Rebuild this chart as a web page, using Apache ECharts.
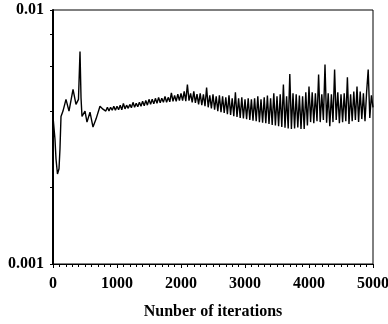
<!DOCTYPE html>
<html><head><meta charset="utf-8">
<script src="https://cdn.jsdelivr.net/npm/echarts@6/dist/echarts.min.js"></script>
<style>html,body{margin:0;padding:0;background:#fff}#c{width:388px;height:324px}</style>
</head><body><div id="c"></div>
<script>
// Iteration numbers and norm of errors
var iterations = [0,31,47,70,94,109,125,156,203,250,313,359,398,422,438,453,500,531,578,625,672,734,781,
800,825,850,875,900,925,950,975,1000,1025,1050,1075,1100,1125,1150,1175,1200,1225,1250,1275,1300,1325,1350,1375,1400,1425,1450,1475,
1500,1525,1550,1575,1600,1625,1650,1675,1700,1725,1750,1775,1800,1825,1850,1875,1900,1925,1950,1975,
2000,2025,2050,2075,2100,2125,2150,2175,2200,2225,2250,2275,2300,2325,2350,2375,2400,2425,2450,2475,
2500,2525,2550,2575,2600,2625,2650,2675,2700,2725,2750,2775,2800,2825,2850,2875,2900,2925,2950,2975,
3000,3025,3050,3075,3100,3125,3150,3175,3200,3225,3250,3275,3300,3325,3350,3375,3400,3425,3450,3475,
3500,3525,3550,3575,3600,3625,3650,3675,3700,3725,3750,3775,3800,3825,3850,3875,3900,3925,3950,3975,
4000,4025,4050,4075,4100,4125,4150,4175,4200,4225,4250,4275,4300,4325,4350,4375,4400,4425,4450,4475,
4500,4525,4550,4575,4600,4625,4650,4675,4700,4725,4750,4775,4800,4825,4850,4875,4900,4925,4950,4975,5000];
var errors = [0.0038,0.0031,0.00259,0.00226,0.00237,0.00284,0.00381,0.0040,0.00445,0.0040,0.00487,0.00425,0.00445,0.00686,0.0045,0.00381,0.0040,0.00362,0.00396,0.00346,0.00372,0.00418,0.00407,
0.00407,0.00400,0.00414,0.00400,0.00414,0.00403,0.00418,0.00403,0.00418,0.00405,0.00422,0.00405,0.00429,0.00408,0.00422,0.00410,0.00425,0.00412,0.00433,0.00414,0.00429,0.00416,0.00433,0.00418,0.00437,0.00420,0.00440,0.00422,
0.00445,0.00425,0.00445,0.00427,0.00449,0.00429,0.00453,0.00431,0.00449,0.00433,0.00457,0.00433,0.00453,0.00435,0.00472,0.00437,0.00461,0.00437,0.00466,0.00440,
0.00470,0.00440,0.00478,0.00438,0.00509,0.00440,0.00470,0.00433,0.00478,0.00431,0.00466,0.00425,0.00470,0.00422,0.00466,0.00418,0.00495,0.00414,0.00461,0.00410,
0.00466,0.00405,0.00457,0.00400,0.00461,0.00396,0.00457,0.00393,0.00453,0.00389,0.00461,0.00386,0.00449,0.00382,0.00474,0.00379,0.00449,0.00376,0.00453,0.00374,
0.00445,0.00372,0.00449,0.00369,0.00445,0.00367,0.00449,0.00365,0.00457,0.00362,0.00445,0.00360,0.00453,0.00358,0.00461,0.00356,0.00449,0.00353,0.00470,0.00351,
0.00457,0.00349,0.00466,0.00346,0.00509,0.00344,0.00457,0.00342,0.00560,0.00340,0.00470,0.00342,0.00466,0.00345,0.00461,0.00340,0.00457,0.00340,0.00474,0.00351,
0.00500,0.00362,0.00474,0.00358,0.00470,0.00365,0.00557,0.00362,0.00466,0.00369,0.00610,0.00360,0.00470,0.00349,0.00466,0.00362,0.00583,0.00369,0.00474,0.00358,
0.00466,0.00362,0.00470,0.00365,0.00543,0.00356,0.00466,0.00365,0.00478,0.00369,0.00500,0.00362,0.00478,0.00372,0.00470,0.00365,0.00474,0.00583,0.00376,0.00461,0.00414];
var xTicks = [0,1000,2000,3000,4000,5000];
var yTickLabels = [0.001,0.01];
var yTicks = [0.001,0.002,0.004,0.006,0.008,0.01];

var font = '"Liberation Serif", "Times New Roman", serif';
var chart = echarts.init(document.getElementById('c'));
var data = iterations.map(function(x,i){return [x, errors[i]];});
chart.setOption({
  animation:false,
  backgroundColor:'#fff',
  grid:{left:53,right:15,top:10,bottom:60,outerBoundsMode:'none',containLabel:false,
    show:true,borderColor:'#000',borderWidth:1,backgroundColor:'transparent'},
  xAxis:{type:'value',min:0,max:5000,interval:1000,
    name:'Nunber of iterations',nameLocation:'middle',nameGap:40,
    nameTextStyle:{fontFamily:font,fontWeight:'bold',fontSize:16,color:'#000'},
    axisLine:{show:true,lineStyle:{color:'#000',width:1}},
    axisTick:{show:true,inside:false,length:4,lineStyle:{color:'#000'}},
    minorTick:{show:true,splitNumber:10,length:3,lineStyle:{color:'#000'}},
    axisLabel:{fontFamily:font,fontWeight:'bold',fontSize:16,color:'#000',margin:12,
      customValues:xTicks,formatter:function(v){return String(v);}},
    splitLine:{show:false}},
  yAxis:{type:'log',logBase:10,min:0.001,max:0.01,
    name:'Norm of errors',nameLocation:'middle',nameGap:28,
    nameTextStyle:{fontFamily:font,fontWeight:'bold',fontSize:16,color:'#000'},
    axisLine:{show:true,lineStyle:{color:'#000',width:2}},
    axisTick:{show:true,inside:false,length:3,lineStyle:{color:'#000'},customValues:yTicks},
    axisLabel:{fontFamily:font,fontWeight:'bold',fontSize:16,color:'#000',margin:9,
      customValues:yTickLabels,
      formatter:function(v){return v>=0.01?'0.01':'0.001';}},
    splitLine:{show:false}},
  series:[{type:'line',data:data,showSymbol:false,symbol:'none',
    lineStyle:{color:'#000',width:1.4},itemStyle:{color:'#000'}}]
});
</script></body></html>
